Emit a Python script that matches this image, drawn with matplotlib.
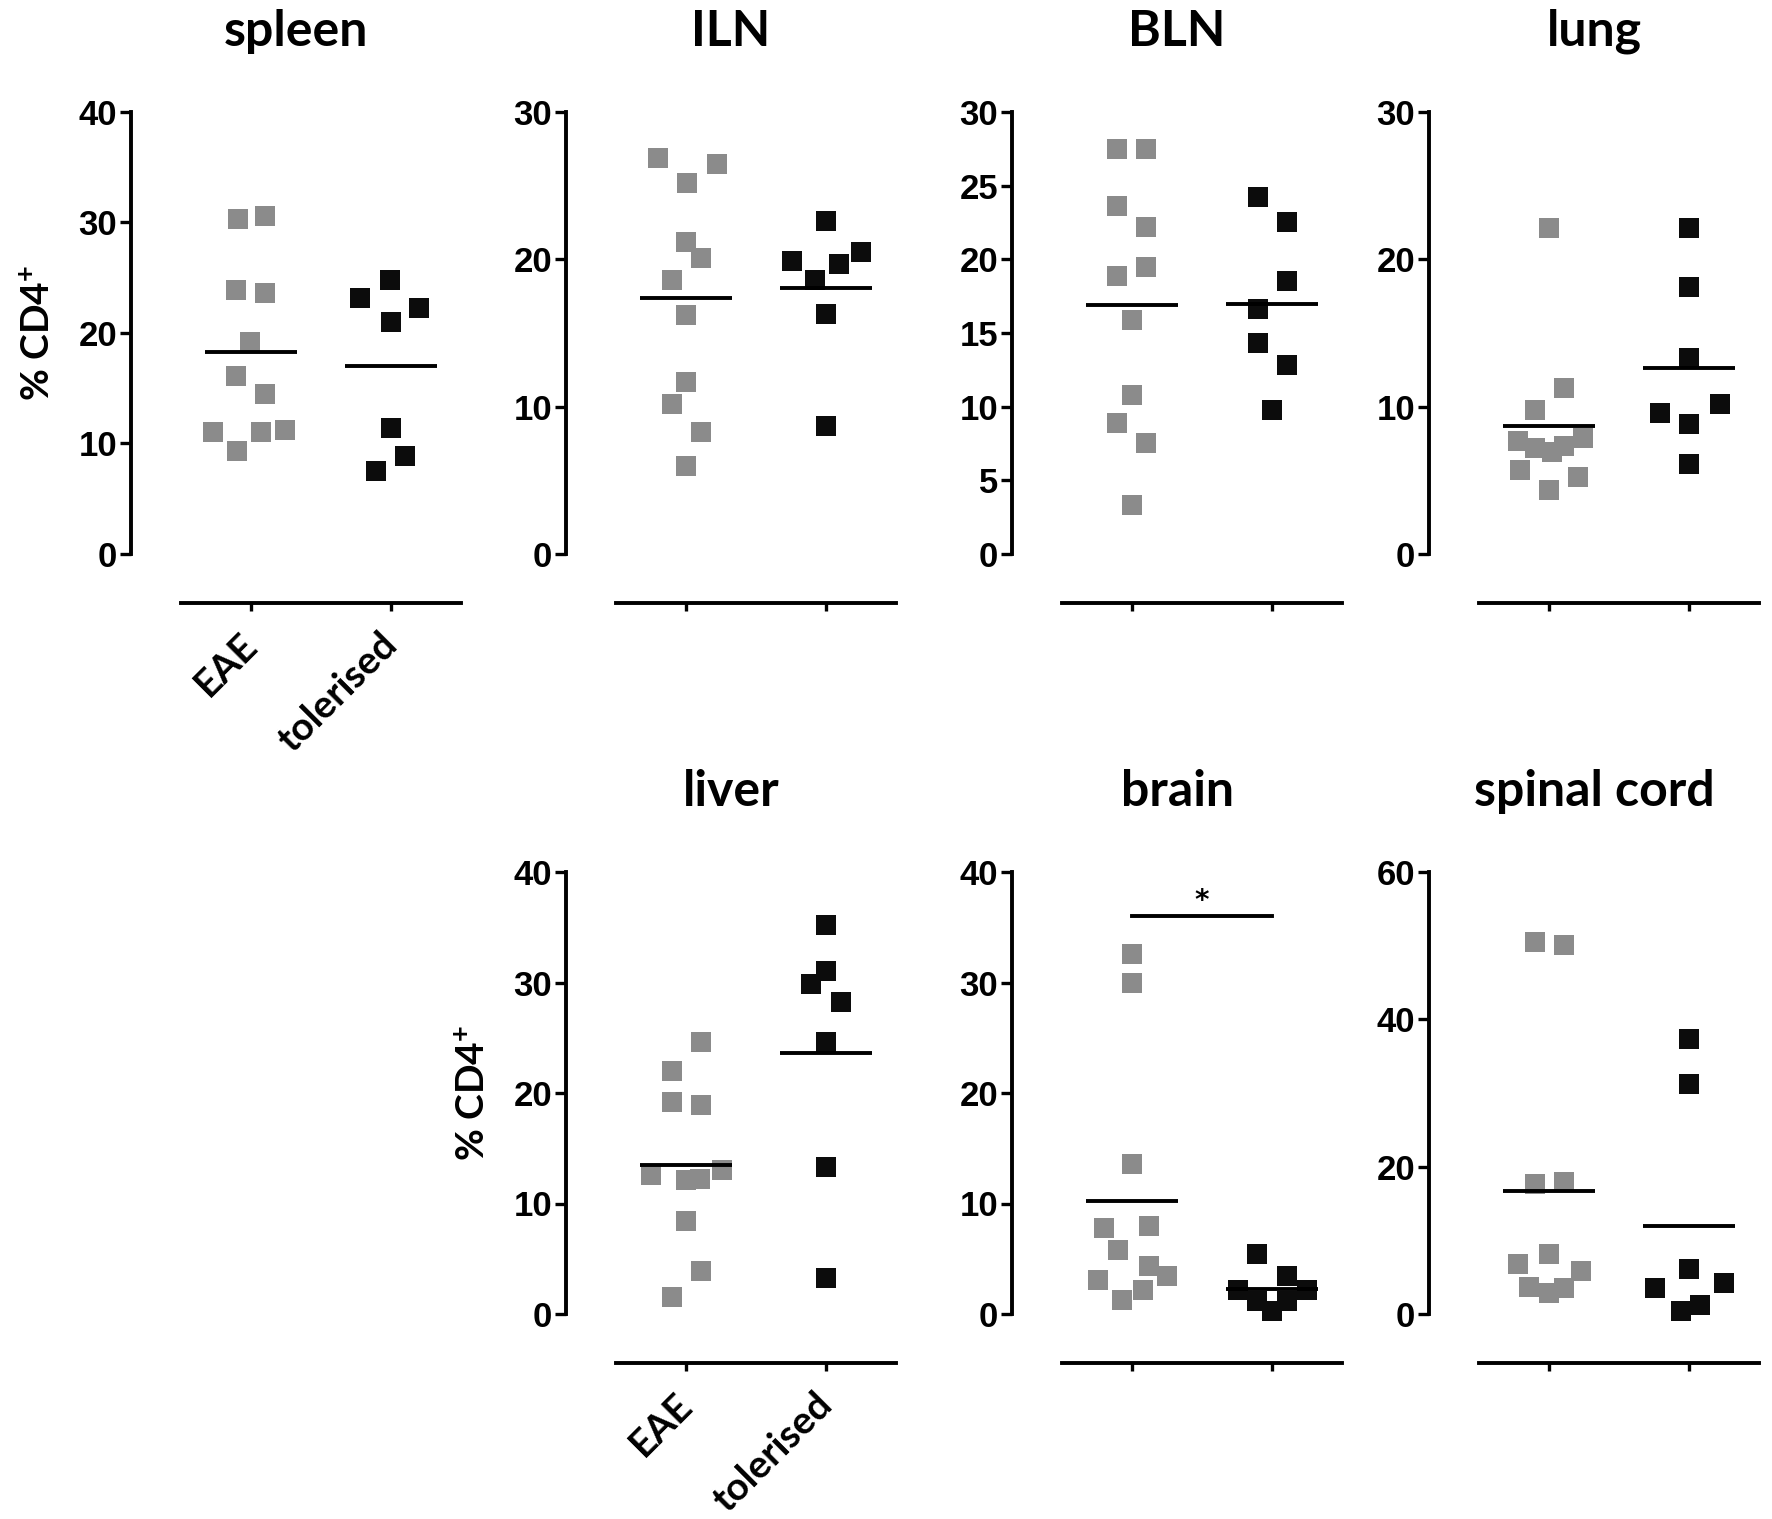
import numpy as np
import matplotlib
matplotlib.use("Agg")
import matplotlib.pyplot as plt

plt.rcParams['font.family'] = ['Lato', 'DejaVu Sans']
plt.rcParams['mathtext.fontset'] = 'custom'
plt.rcParams['mathtext.rm'] = 'Lato:bold'
plt.rcParams['mathtext.it'] = 'Lato:bold'

groups = ['EAE', 'tolerised']

# % CD4+ values, one list per organ and group
spleen_eae = [30.3, 30.6, 23.9, 23.6, 19.2, 16.1, 14.5, 11.0, 11.0, 11.2, 9.3]
spleen_tol = [23.2, 24.8, 22.3, 21.0, 11.4, 8.9, 7.5]
iln_eae = [26.9, 25.2, 26.5, 21.2, 20.1, 18.6, 16.2, 11.7, 10.2, 8.3, 6.0]
iln_tol = [22.6, 19.9, 19.7, 20.5, 18.6, 16.3, 8.7]
bln_eae = [27.5, 27.5, 23.6, 22.2, 18.9, 19.5, 15.9, 10.8, 8.9, 7.5, 3.3]
bln_tol = [24.2, 22.5, 18.5, 16.6, 14.3, 12.8, 9.8]
lung_eae = [22.1, 11.3, 9.8, 7.7, 7.85, 7.2, 6.9, 7.3, 5.7, 4.35, 5.25]
lung_tol = [22.1, 18.1, 13.3, 9.6, 10.2, 8.8, 6.1]
liver_eae = [24.6, 22.0, 19.2, 18.9, 12.6, 12.1, 12.2, 13.0, 8.4, 3.9, 1.5]
liver_tol = [35.2, 31.0, 29.9, 28.2, 24.6, 13.3, 3.3]
brain_eae = [32.6, 30.0, 13.6, 7.8, 8.0, 5.8, 4.3, 3.1, 3.4, 2.2, 1.3]
brain_tol = [5.4, 3.4, 2.2, 2.2, 1.2, 1.2, 0.3]
cord_eae = [50.5, 50.1, 17.6, 17.9, 8.2, 6.8, 5.9, 3.7, 2.9, 3.5]
cord_tol = [37.3, 31.2, 6.1, 3.5, 4.2, 0.45, 1.2]

# sideways spread of the squares inside each column (category units)
spleen_eae_dx = [-0.09, 0.10, -0.11, 0.10, -0.01, -0.11, 0.10, -0.27, 0.07, 0.24, -0.10]
spleen_tol_dx = [-0.22, -0.01, 0.20, 0.0, 0.0, 0.10, -0.11]
iln_eae_dx = [-0.20, 0.01, 0.22, 0.0, 0.11, -0.10, 0.0, 0.0, -0.10, 0.11, 0.0]
iln_tol_dx = [0.0, -0.24, 0.09, 0.25, -0.08, 0.0, 0.0]
bln_eae_dx = [-0.11, 0.10, -0.11, 0.10, -0.11, 0.10, 0.0, 0.0, -0.11, 0.10, 0.0]
bln_tol_dx = [-0.10, 0.11, 0.11, -0.10, -0.10, 0.11, 0.0]
lung_eae_dx = [0.0, 0.11, -0.10, -0.22, 0.24, -0.10, 0.02, 0.11, -0.21, 0.0, 0.21]
lung_tol_dx = [0.0, 0.0, 0.0, -0.21, 0.22, 0.0, 0.0]
liver_eae_dx = [0.11, -0.10, -0.10, 0.11, -0.25, 0.0, 0.10, 0.26, 0.0, 0.11, -0.10]
liver_tol_dx = [0.0, 0.0, -0.11, 0.11, 0.0, 0.0, 0.0]
brain_eae_dx = [0.0, 0.0, 0.0, -0.20, 0.12, -0.10, 0.12, -0.24, 0.25, 0.08, -0.07]
brain_tol_dx = [-0.11, 0.11, -0.24, 0.25, -0.11, 0.11, 0.0]
cord_eae_dx = [-0.10, 0.11, -0.10, 0.11, 0.0, -0.22, 0.23, -0.14, 0.0, 0.11]
cord_tol_dx = [0.0, 0.0, 0.0, -0.24, 0.25, -0.06, 0.08]

panels = [
    ('spleen', spleen_eae, spleen_eae_dx, spleen_tol, spleen_tol_dx, 40, 10, 0, 0),
    ('ILN', iln_eae, iln_eae_dx, iln_tol, iln_tol_dx, 30, 10, 0, 1),
    ('BLN', bln_eae, bln_eae_dx, bln_tol, bln_tol_dx, 30, 5, 0, 2),
    ('lung', lung_eae, lung_eae_dx, lung_tol, lung_tol_dx, 30, 10, 0, 3),
    ('liver', liver_eae, liver_eae_dx, liver_tol, liver_tol_dx, 40, 10, 1, 1),
    ('brain', brain_eae, brain_eae_dx, brain_tol, brain_tol_dx, 40, 10, 1, 2),
    ('spinal cord', cord_eae, cord_eae_dx, cord_tol, cord_tol_dx, 60, 20, 1, 3),
]

W, H = 1772, 1519
fig = plt.figure(figsize=(W / 100, H / 100), dpi=100)

col_left = [181, 616, 1062, 1479]   # px, where the x axis line starts
row_zero = [554, 1314]              # px from top, y = 0
ax_w, ax_h = 280, 442
title_y = [31, 791]

gray = '#8b8b8b'
black = '#0c0c0c'

for name, eae, eae_dx, tol, tol_dx, ymax, ystep, r, c in panels:
    left = col_left[c]
    bottom = row_zero[r]
    ax = fig.add_axes([left / W, 1 - bottom / H, ax_w / W, ax_h / H])
    ax.set_xlim(-0.5, 1.5)
    ax.set_ylim(0, ymax)

    ax.plot(np.array(eae_dx), eae, 's', color=gray, ms=14.5, mew=0, clip_on=False, zorder=3)
    ax.plot(1 + np.array(tol_dx), tol, 's', color=black, ms=14.5, mew=0, clip_on=False, zorder=3)
    ax.hlines([np.mean(eae), np.mean(tol)], [-0.33, 0.67], [0.33, 1.33],
              color='black', lw=2.8, zorder=4)

    for s in ['top', 'right']:
        ax.spines[s].set_visible(False)
    ax.spines['left'].set_position(('outward', 36))
    ax.spines['bottom'].set_position(('outward', 35))
    for s in ['left', 'bottom']:
        ax.spines[s].set_linewidth(2.8)

    ax.set_yticks(np.arange(0, ymax + 1, ystep))
    ax.tick_params(axis='y', length=8, width=2.4, pad=2, labelsize=25)
    for lab in ax.get_yticklabels():
        lab.set_fontfamily('Liberation Sans')
        lab.set_fontweight('bold')
    ax.set_xticks([0, 1])
    ax.tick_params(axis='x', length=6, width=2.4, pad=20)
    if c == 0 or (r == 1 and c == 1):
        ax.set_xticklabels(groups, rotation=45, ha='right', va='center',
                           rotation_mode='anchor', fontsize=28, fontweight='bold')
        fig.text((left - 50 - 93) / W, 1 - (bottom - ax_h / 2) / H, '% CD4$^{+}$',
                 rotation=90, ha='center', va='center', fontsize=28, fontweight='bold')
    else:
        ax.set_xticklabels([])

    fig.text((left - 50 + left + ax_w) / 2 / W, 1 - title_y[r] / H, name,
             ha='center', va='center', fontsize=36, fontweight='bold')

    if name == 'brain':
        ax.plot([0, 1], [36, 36], color='black', lw=2.8, clip_on=False)
        ax.text(0.5, 37.4, '*', ha='center', va='center', fontsize=20,
                fontweight='bold', family='DejaVu Sans')

fig.savefig('out.png', dpi=100)
